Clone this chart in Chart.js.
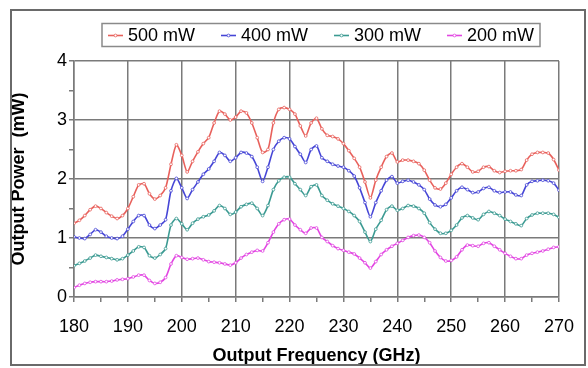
<!DOCTYPE html>
<html>
<head>
<meta charset="utf-8">
<script src="https://cdn.jsdelivr.net/npm/chart.js@4"></script>
<style>
  html, body { margin: 0; padding: 0; background: #fff; }
  #wrap { position: relative; width: 588px; height: 368px; }
  #frame { position: absolute; left: 10px; top: 9px; width: 576px; height: 357px; border: 2px solid #6a6a6a; box-sizing: border-box; pointer-events: none; }
</style>
</head>
<body>
<div id="wrap">
  <canvas id="c" width="588" height="368"></canvas>
  <div id="frame"></div>
</div>
<script>
// ===== DATA =====
const freqs = [180,181,182,183,184,185,186,187,188,189,190,191,192,193,194,195,196,197,198,199,
  200,201,202,203,204,205,206,207,208,209,210,211,212,213,214,215,216,217,218,219,
  220,221,222,223,224,225,226,227,228,229,230,231,232,233,234,235,236,237,238,239,
  240,241,242,243,244,245,246,247,248,249,250,251,252,253,254,255,256,257,258,259,
  260,261,262,263,264,265,266,267,268,269,270];

const p500 = [1.25,1.30,1.38,1.48,1.54,1.50,1.43,1.37,1.33,1.38,1.50,1.70,1.90,1.92,1.75,1.66,1.72,1.85,2.25,2.58,
  2.40,2.12,2.30,2.46,2.60,2.70,2.95,3.15,3.10,3.00,3.05,3.15,3.12,2.95,2.70,2.45,2.50,2.95,3.18,3.21,
  3.18,3.10,2.90,2.73,2.95,3.03,2.85,2.74,2.72,2.68,2.60,2.48,2.35,2.20,1.95,1.68,1.98,2.20,2.38,2.44,
  2.29,2.32,2.32,2.30,2.26,2.15,1.98,1.85,1.83,1.93,2.08,2.20,2.26,2.20,2.12,2.13,2.20,2.21,2.14,2.11,
  2.13,2.14,2.14,2.16,2.32,2.42,2.45,2.45,2.44,2.33,2.15];

const p400 = [1.02,1.00,0.99,1.06,1.14,1.10,1.03,1.00,0.99,1.03,1.15,1.28,1.38,1.38,1.22,1.16,1.22,1.31,1.80,2.01,
  1.85,1.67,1.82,1.95,2.08,2.17,2.30,2.45,2.40,2.30,2.36,2.45,2.44,2.38,2.20,1.96,2.20,2.50,2.64,2.70,
  2.68,2.55,2.42,2.28,2.50,2.56,2.36,2.30,2.25,2.22,2.20,2.14,2.05,1.85,1.60,1.36,1.60,1.80,1.98,2.04,
  1.93,1.96,1.98,1.95,1.90,1.82,1.66,1.56,1.53,1.57,1.68,1.80,1.86,1.82,1.77,1.78,1.84,1.86,1.80,1.77,
  1.78,1.78,1.73,1.72,1.90,1.96,1.97,1.98,1.97,1.93,1.81];

const p300 = [0.53,0.57,0.61,0.66,0.71,0.69,0.67,0.65,0.63,0.65,0.71,0.78,0.85,0.84,0.70,0.66,0.72,0.82,1.22,1.33,
  1.24,1.14,1.25,1.32,1.36,1.39,1.46,1.55,1.50,1.40,1.44,1.53,1.57,1.59,1.50,1.38,1.55,1.82,1.97,2.03,
  2.03,1.92,1.82,1.72,1.87,1.90,1.72,1.64,1.58,1.54,1.50,1.45,1.38,1.28,1.10,0.94,1.15,1.30,1.48,1.54,
  1.47,1.50,1.55,1.54,1.50,1.42,1.26,1.15,1.08,1.08,1.13,1.22,1.34,1.38,1.34,1.31,1.40,1.45,1.42,1.38,
  1.32,1.28,1.24,1.21,1.33,1.39,1.42,1.42,1.42,1.40,1.35];

const p200 = [0.16,0.20,0.23,0.25,0.26,0.26,0.26,0.27,0.29,0.30,0.31,0.34,0.37,0.37,0.28,0.23,0.25,0.33,0.56,0.70,
  0.67,0.64,0.65,0.66,0.63,0.60,0.59,0.58,0.56,0.54,0.58,0.66,0.72,0.76,0.79,0.78,0.92,1.10,1.24,1.31,
  1.32,1.22,1.14,1.08,1.17,1.17,1.01,0.94,0.87,0.82,0.79,0.76,0.73,0.66,0.58,0.49,0.60,0.72,0.80,0.86,
  0.91,0.96,1.01,1.04,1.05,1.01,0.92,0.78,0.67,0.61,0.62,0.68,0.80,0.88,0.87,0.86,0.91,0.92,0.86,0.80,
  0.74,0.69,0.65,0.65,0.71,0.74,0.76,0.78,0.81,0.84,0.85];

const seriesLabels = ['500 mW', '400 mW', '300 mW', '200 mW'];
const seriesValues = [p500, p400, p300, p200];
const seriesColors = ['#e8615c', '#4646d6', '#3b9a92', '#e246e2'];

// ===== CHART =====
Chart.defaults.font.family = 'Arial, "Liberation Sans", sans-serif';
Chart.defaults.color = '#000';

// boxed legend row above the plot, drawn from the dataset labels/colours
const boxedLegend = {
  id: 'boxedLegend',
  afterDraw(chart) {
    const ctx = chart.ctx;
    const x0 = 108, step = 113, cy = 35.5;
    ctx.save();
    ctx.strokeStyle = '#8a8a8a';
    ctx.lineWidth = 1.5;
    ctx.strokeRect(102, 23.5, 438, 23);
    ctx.font = '18px Arial, "Liberation Sans", sans-serif';
    ctx.textBaseline = 'middle';
    chart.data.datasets.forEach((ds, i) => {
      const x = x0 + i * step;
      ctx.strokeStyle = ds.borderColor;
      ctx.lineWidth = 1.6;
      ctx.beginPath();
      ctx.moveTo(x, cy);
      ctx.lineTo(x + 15, cy);
      ctx.stroke();
      ctx.beginPath();
      ctx.fillStyle = '#fff';
      ctx.lineWidth = 0.8;
      ctx.arc(x + 7.5, cy, 1.4, 0, Math.PI * 2);
      ctx.fill();
      ctx.stroke();
      ctx.fillStyle = '#000';
      ctx.fillText(ds.label, x + 20, cy + 0.5);
    });
    ctx.restore();
  }
};

const gridCol = '#7a7a7a';

new Chart(document.getElementById('c'), {
  type: 'line',
  data: {
    datasets: seriesValues.map((vals, i) => ({
      label: seriesLabels[i],
      data: vals.map((v, j) => ({ x: freqs[j], y: v })),
      borderColor: seriesColors[i],
      backgroundColor: seriesColors[i],
      borderWidth: 1.6,
      pointRadius: 1.4,
      pointBorderWidth: 0.8,
      pointBackgroundColor: '#ffffff',
      pointBorderColor: seriesColors[i],
      tension: 0.25,
      fill: false,
    })),
  },
  options: {
    responsive: false,
    animation: false,
    layout: { padding: { left: 6, right: 7, top: 61, bottom: 1 } },
    plugins: {
      legend: { display: false },
      tooltip: { enabled: false },
    },
    scales: {
      x: {
        type: 'linear',
        min: 180, max: 270,
        afterFit: s => { s.height = 70; },
        ticks: {
          stepSize: 5,
          padding: 14,
          font: { size: 18 },
          maxRotation: 0,
          autoSkip: false,
          callback: v => (v % 10 === 0 ? v : ''),
        },
        grid: {
          color: c => (c.tick && c.tick.value % 10 === 0 ? gridCol : 'rgba(0,0,0,0)'),
          tickColor: gridCol,
          lineWidth: 1.5,
          tickLength: 5,
        },
        border: { color: gridCol, width: 1.5 },
        title: { display: true, text: 'Output Frequency (GHz)', font: { size: 18, weight: 'bold' }, padding: { top: 0, bottom: 0 } },
      },
      y: {
        min: 0, max: 4,
        afterFit: s => { s.width = 68; },
        ticks: {
          stepSize: 0.5,
          padding: 2,
          font: { size: 18 },
          callback: v => (v % 1 === 0 ? v : ''),
        },
        grid: {
          color: c => (c.tick && c.tick.value % 1 === 0 ? gridCol : 'rgba(0,0,0,0)'),
          tickColor: gridCol,
          lineWidth: 1.5,
          tickLength: 5,
        },
        border: { color: gridCol, width: 1.5 },
        title: { display: true, text: 'Output Power  (mW)', font: { size: 18, weight: 'bold' }, padding: { top: 2, bottom: 0 } },
      },
    },
  },
  plugins: [boxedLegend],
});
</script>
</body>
</html>
